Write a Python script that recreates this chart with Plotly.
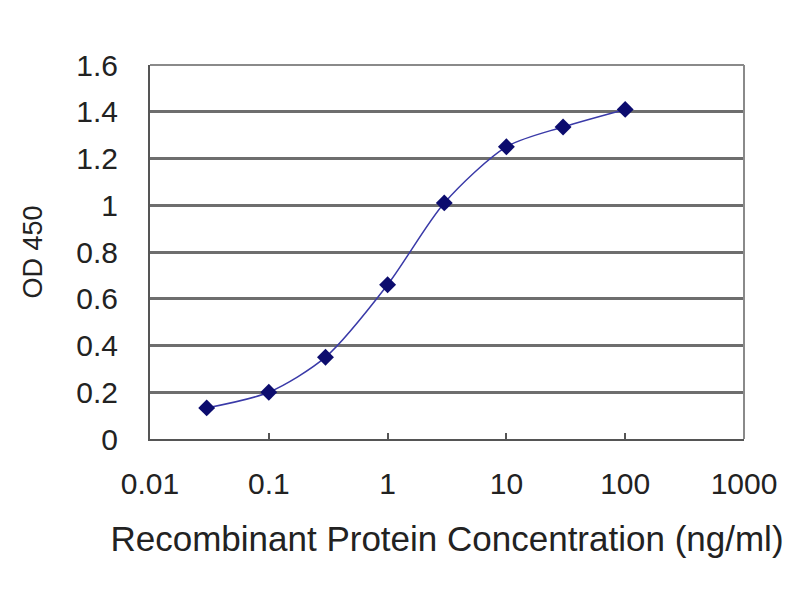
import plotly.graph_objects as go

# recombinant protein titration, OD 450 readings
conc = [0.03, 0.1, 0.3, 1, 3, 10, 30, 100]
od450 = [0.133, 0.20, 0.35, 0.66, 1.01, 1.25, 1.335, 1.41]

x_ticks = [0.01, 0.1, 1, 10, 100, 1000]
x_labels = ["0.01", "0.1", "1", "10", "100", "1000"]
y_ticks = [0, 0.2, 0.4, 0.6, 0.8, 1, 1.2, 1.4, 1.6]
y_labels = ["0", "0.2", "0.4", "0.6", "0.8", "1", "1.2", "1.4", "1.6"]

fig = go.Figure()
fig.add_trace(go.Scatter(
    x=conc, y=od450,
    mode="lines+markers",
    line=dict(color="#3a3aa8", width=1.5, shape="spline", smoothing=0.8),
    marker=dict(symbol="diamond", size=13, color="#0c0c6e"),
    showlegend=False,
))

# page body adds ~8px, so margins are trimmed to keep the plot box at 150..744 / 65..439
fig.update_layout(
    width=800, height=600,
    margin=dict(l=142, r=64, t=57, b=169),
    paper_bgcolor="white", plot_bgcolor="white",
    font=dict(family="Liberation Sans, Arial", color="#222222"),
)

fig.update_xaxes(
    type="log", range=[-2, 3],
    tickvals=x_ticks, ticktext=x_labels,
    tickfont=dict(size=30),
    ticks="inside", ticklen=6, tickcolor="#555555", tickwidth=2,
    showgrid=False, zeroline=False,
    showline=True, linecolor="#555555", linewidth=2, mirror=False,
    ticklabelstandoff=17,
    title=dict(text="Recombinant Protein Concentration (ng/ml)",
               font=dict(size=35), standoff=27),
)
fig.update_yaxes(
    range=[0, 1.6],
    tickvals=y_ticks, ticktext=y_labels,
    tickfont=dict(size=30),
    ticks="", showgrid=True, gridcolor="#6e6e6e", gridwidth=2.5,
    zeroline=False,
    showline=True, linecolor="#555555", linewidth=2, mirror=False,
    ticklabelstandoff=24,
    title=dict(text="OD 450", font=dict(size=27), standoff=26),
)

# light frame on the top and right edges of the plot area
fig.add_shape(type="line", xref="paper", yref="paper", x0=1, x1=1, y0=0, y1=1,
              line=dict(color="#8a8a8a", width=2))
fig.add_shape(type="line", xref="paper", yref="paper", x0=0, x1=1, y0=1, y1=1,
              line=dict(color="#8a8a8a", width=2))

fig.write_html("out.html")
